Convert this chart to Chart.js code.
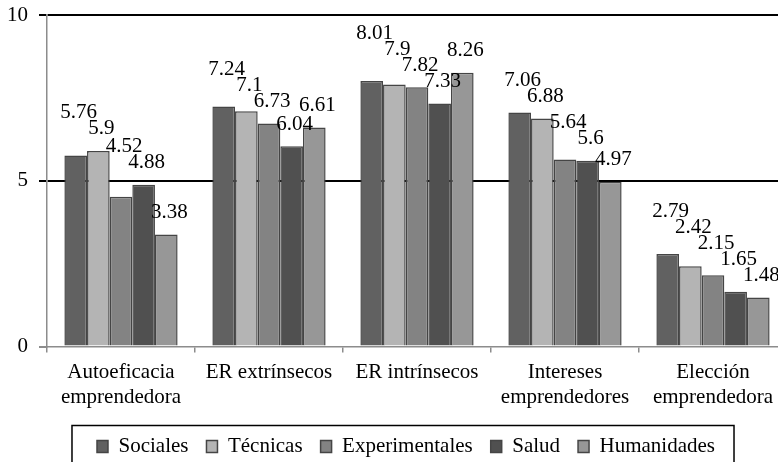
<!DOCTYPE html>
<html lang="es">
<head>
  <meta charset="UTF-8" />
  <title>Medias por rama de conocimiento</title>
  <script src="https://cdn.jsdelivr.net/npm/chart.js"></script>
  <style>
    html, body { margin: 0; padding: 0; background: #fff; overflow: hidden; }
    body { width: 778px; height: 462px; }
  </style>
</head>
<body>
  <canvas id="grafico" width="820" height="467"></canvas>

  <script>
    const categorias = [
      ["Autoeficacia", "emprendedora"],
      "ER extrínsecos",
      "ER intrínsecos",
      ["Intereses", "emprendedores"],
      ["Elección", "emprendedora"]
    ];
    const sociales       = [5.76, 7.24, 8.01, 7.06, 2.79];
    const tecnicas       = [5.9,  7.1,  7.9,  6.88, 2.42];
    const experimentales = [4.52, 6.73, 7.82, 5.64, 2.15];
    const salud          = [4.88, 6.04, 7.33, 5.6,  1.65];
    const humanidades    = [3.38, 6.61, 8.26, 4.97, 1.48];
    const ticksY = [0, 5, 10];

    const fuente = { family: "'Liberation Serif', 'Times New Roman', serif", size: 21 };
    const borde = "#454545";

    function serie(nombre, datos, color) {
      return {
        label: nombre,
        data: datos,
        backgroundColor: color,
        borderColor: borde,
        borderWidth: 1.5,
        borderSkipped: "bottom",
        categoryPercentage: 0.765,
        barPercentage: 1.0
      };
    }

    // etiquetas de valor: de derecha a izquierda, la que choca sube
    const etiquetas = {
      id: "etiquetas",
      afterLayout(chart) {
        // la leyenda va un poco a la derecha, como en el original
        chart.legend.left += 14.5;
        chart.legend.right += 14.5;
      },
      afterDatasetsDraw(chart) {
        const ctx = chart.ctx;
        ctx.save();
        ctx.font = "21px 'Liberation Serif'";
        ctx.fillStyle = "#000";
        ctx.textAlign = "center";
        ctx.textBaseline = "middle";
        const alto = 16;
        const n = chart.data.datasets.length;
        chart.data.labels.forEach((_, i) => {
          const puestos = [];
          for (let d = n - 1; d >= 0; d--) {
            const ds = chart.data.datasets[d];
            const barra = chart.getDatasetMeta(d).data[i];
            const txt = String(ds.data[i]);
            const w = ctx.measureText(txt).width - 4;
            const x = barra.x + 3;
            let y = barra.y - 22;
            let movido = true;
            while (movido) {
              movido = false;
              for (const r of puestos) {
                if (x - w / 2 < r.x + r.w / 2 && x + w / 2 > r.x - r.w / 2 &&
                    y - alto / 2 < r.y + alto / 2 && y + alto / 2 > r.y - alto / 2) {
                  y = r.y - alto;
                  movido = true;
                }
              }
            }
            puestos.push({ x, y, w });
            ctx.fillText(txt, x, y);
          }
        });
        ctx.restore();
      },
      afterDraw(chart) {
        // marco alrededor de la leyenda
        const hb = chart.legend.legendHitBoxes;
        if (!hb || !hb.length) return;
        const ctx = chart.ctx;
        const izq = hb[0].left - 25;
        const ult = hb[hb.length - 1];
        const der = ult.left + ult.width + 19;
        const cy = hb[0].top + hb[0].height / 2;
        ctx.save();
        ctx.strokeStyle = "#000";
        ctx.lineWidth = 1.5;
        ctx.strokeRect(izq, cy - 21, der - izq, 42);
        ctx.restore();
      }
    };

    new Chart(document.getElementById("grafico"), {
      type: "bar",
      data: {
        labels: categorias,
        datasets: [
          serie("Sociales", sociales, "#616161"),
          serie("Técnicas", tecnicas, "#b4b4b4"),
          serie("Experimentales", experimentales, "#838383"),
          serie("Salud", salud, "#505050"),
          serie("Humanidades", humanidades, "#979797")
        ]
      },
      options: {
        responsive: false,
        animation: false,
        layout: { padding: { left: -4, right: 33, top: 15, bottom: 0 } },
        plugins: {
          tooltip: { enabled: false },
          legend: {
            position: "bottom",
            labels: {
              color: "#000",
              font: fuente,
              boxWidth: 11,
              boxHeight: 12,
              padding: 18
            }
          }
        },
        scales: {
          x: {
            afterFit: s => {
              s.height = 71.5;
              s.paddingLeft = 0;
              s.paddingRight = 0;
            },
            grid: {
              display: true,
              offset: true,
              drawOnChartArea: false,
              drawTicks: true,
              tickLength: 6,
              color: "#8c8c8c",
              lineWidth: 1.5
            },
            border: { display: true, color: "#8c8c8c", width: 1.5 },
            ticks: { color: "#000", font: fuente, padding: 7, maxRotation: 0, autoSkip: false }
          },
          y: {
            min: 0,
            max: 10,
            afterFit: s => {
              s.paddingTop = 0;
              s.paddingBottom = 0;
            },
            afterBuildTicks: s => { s.ticks = ticksY.map(v => ({ value: v })); },
            grid: {
              color: c => (c.tick && c.tick.value === 0) ? "rgba(0,0,0,0)" : "#000",
              tickColor: c => (c.tick && c.tick.value === 0) ? "#8c8c8c" : "#000",
              lineWidth: 2,
              tickLength: 8
            },
            border: { display: true, color: "#8c8c8c", width: 1.5 },
            ticks: { color: "#000", font: fuente, padding: 11 }
          }
        }
      },
      plugins: [etiquetas]
    });
  </script>
</body>
</html>
